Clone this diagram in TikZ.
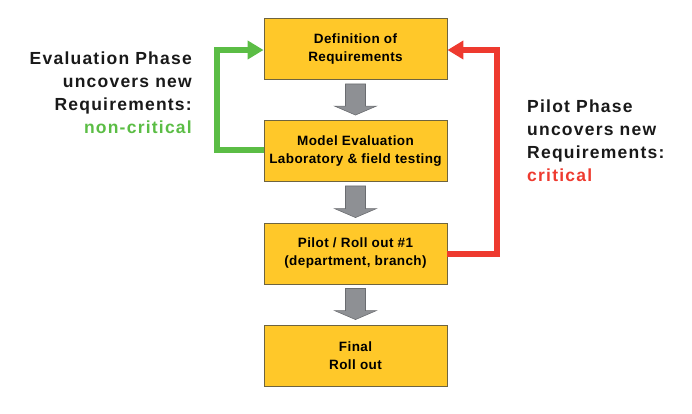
\documentclass[tikz,border=0pt]{standalone}
\usepackage{fontspec}
\setmainfont{Liberation Sans}
\newfontfamily\bigfont[LetterSpace=7]{Liberation Sans}
\newfontfamily\boxfont[LetterSpace=3]{Liberation Sans}
\usetikzlibrary{arrows.meta,calc}
\definecolor{boxyellow}{HTML}{FFC829}
\definecolor{boxedge}{HTML}{6E6440}
\definecolor{grn}{HTML}{5BBD45}
\definecolor{rd}{HTML}{EE3A2F}
\definecolor{arrgray}{HTML}{8E9094}
\definecolor{arredge}{HTML}{6A6C70}
\tikzset{
  stepbox/.style={draw=boxedge, line width=0.9pt, fill=boxyellow, minimum width=183pt, minimum height=61pt, inner sep=0pt, align=center, font=\boxfont\bfseries\fontsize{13.5pt}{18pt}\selectfont, text=black},
  sidetext/.style={inner sep=0pt, font=\bigfont\bfseries\fontsize{17.5pt}{23pt}\selectfont, text=black!90},
  loop/.style={line width=6pt, -{Triangle[length=16pt,width=18pt]}},
  grayarr/.style={fill=arrgray, draw=arredge, line width=0.6pt, line join=miter}
}
\begin{document}
\begin{tikzpicture}[x=1pt,y=-1pt]
\useasboundingbox (0,0) rectangle (692,413);
\node[stepbox] (b1) at (355.5,49) {\raisebox{-1.5pt}{\begin{tabular}{@{}c@{}}Definition of\\[0pt]Requirements\end{tabular}}};
\node[stepbox] (b2) at (355.5,151) {Model Evaluation\\Laboratory \& field testing};
\node[stepbox] (b3) at (355.5,253.5) {Pilot / Roll out \#1\\(department, branch)};
\node[stepbox] (b4) at (355.5,355.5) {Final\\Roll out};
% gray block arrows
\foreach \a/\b in {b1/b2,b2/b3,b3/b4}{
  \draw[grayarr] ($(\a.south)+(-10,4)$) -- ++(20,0) -- ($(\b.north)+(10,-14)$) -- ++(11,0) -- ($(\b.north)+(0,-5)$) -- ($(\b.north)+(-21,-14)$) -- ++(11,0) -- cycle;
}
% loops
\draw[loop, grn] ([yshift=1pt]b2.west) -- ++(-47,0) |- ([yshift=-1pt]b1.west);
\draw[loop, rd] (b3.east) -- ++(50,0) |- ([yshift=-1pt]b1.east);
% side texts
\node[sidetext, anchor=east, align=right] (lt) at (192,92.5) {Evaluation Phase\\uncovers new\\Requirements:\\\textcolor{grn}{non-critical}};
\node[sidetext, anchor=west, align=left] (rt) at (527,141) {Pilot Phase\\uncovers new\\Requirements:\\\textcolor{rd}{critical}};
\end{tikzpicture}
\end{document}
